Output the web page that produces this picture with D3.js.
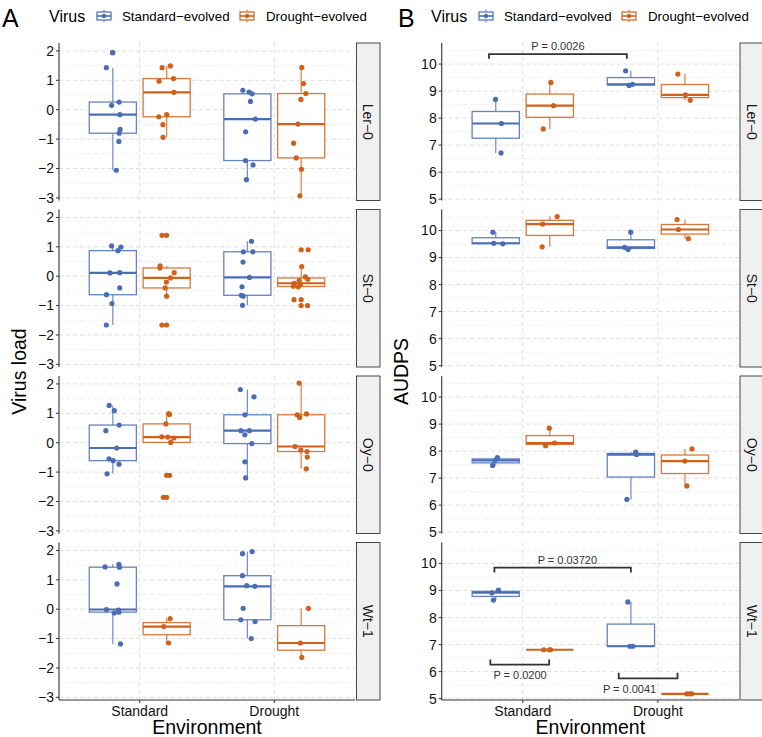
<!DOCTYPE html>
<html><head><meta charset="utf-8">
<script src="https://cdn.jsdelivr.net/npm/d3@7"></script>
<style>
body{margin:0;background:#fff}
svg{display:block}
text{font-family:"Liberation Sans",Arial,Helvetica,sans-serif}
</style>
</head><body>
<svg id="chart" width="762" height="737"></svg>
<script>
// ---------------- DATA ----------------
const environments = ["Standard", "Drought"];
const viruses = ["Standard-evolved", "Drought-evolved"];
const virusLabels = ["Standard\u2212evolved", "Drought\u2212evolved"];
const genotypes = ["Ler-0", "St-0", "Oy-0", "Wt-1"];
const stripLabels = ["Ler\u22120", "St\u22120", "Oy\u22120", "Wt\u22121"];
const loadTicks = [-3, -2, -1, 0, 1, 2];
const audpsTicks = [5, 6, 7, 8, 9, 10];

// Panel A: virus load; groups ordered [Standard/Std-evolved, Standard/Drought-evolved, Drought/Std-evolved, Drought/Drought-evolved]
const loadLer0 = [
  [1.94, 1.43, 0.26, 0.15, -0.17, -0.67, -0.80, -1.08, -2.06],
  [1.49, 1.43, 1.06, 0.97, 0.59, -0.17, -0.24, -0.51, -0.94],
  [0.66, 0.60, 0.54, 0.28, -0.32, -0.75, -1.73, -1.88, -2.38],
  [1.44, 0.89, 0.55, 0.35, -0.49, -1.14, -1.64, -2.03, -2.93]
];
const loadSt0 = [
  [1.03, 0.99, 0.87, 0.12, 0.11, -0.40, -0.63, -0.93, -1.66],
  [1.39, 0.35, 0.28, 0.12, -0.06, -0.20, -0.40, -0.68, -1.66],
  [1.19, 0.83, 0.83, 0.48, -0.04, -0.36, -0.65, -0.68, -0.99],
  [0.90, 0.33, -0.02, -0.10, -0.15, -0.24, -0.28, -0.34, -0.36, -0.80, -1.00]
];
const loadOy0 = [
  [1.27, 1.09, 0.60, 0.41, -0.18, -0.55, -0.61, -0.73, -1.06],
  [0.99, 0.96, 0.64, 0.20, 0.19, 0.16, 0.01, -1.11, -1.86],
  [1.81, 1.56, 0.95, 0.41, 0.41, 0.27, -0.03, -0.65, -1.20],
  [2.03, 0.98, 0.95, 0.86, -0.13, -0.25, -0.30, -0.49, -0.89]
];
const loadWt1 = [
  [1.53, 1.44, 1.43, 0.86, -0.01, -0.03, -0.10, -0.13, -1.18],
  [-0.32, -0.59, -1.15],
  [1.96, 1.89, 1.14, 0.80, 0.78, 0.03, -0.36, -0.42, -1.00],
  [0.03, -1.15, -1.64]
];

// Panel B: AUDPS
const audpsLer0 = [[8.69, 7.80, 6.71], [9.32, 8.46, 7.60], [9.75, 9.25, 9.21], [9.63, 8.86, 8.66]];
const audpsSt0  = [[9.94, 9.53, 9.51], [10.52, 10.24, 9.40], [9.94, 9.38, 9.30], [10.41, 10.04, 9.70]];
const audpsOy0  = [[7.76, 7.66, 7.47], [8.85, 8.30, 8.20], [7.96, 7.87, 6.21], [8.08, 7.63, 6.71]];
const audpsWt1  = [[9.02, 8.92, 8.65], [6.81, 6.81, 6.81], [8.58, 6.94, 6.94], [5.18, 5.18, 5.18]];

// significance brackets (x in environment units, y in AUDPS units)
const pBrackets = [
  {facet: 0, x1: 0.75, x2: 1.77, y: 10.37, tip: 10.20, label: "P = 0.0026", lx: 1.26, ly: 10.52},
  {facet: 3, x1: 0.79, x2: 1.80, y: 9.85, tip: 9.67, label: "P = 0.03720", lx: 1.33, ly: 9.98},
  {facet: 3, x1: 0.76, x2: 1.195, y: 6.26, tip: 6.45, label: "P = 0.0200", lx: 0.98, ly: 5.71},
  {facet: 3, x1: 1.71, x2: 2.145, y: 5.75, tip: 5.96, label: "P = 0.0041", lx: 1.79, ly: 5.22}
];

// ---------------- STYLE / LAYOUT ----------------
const colors = ["#4A6DB4", "#D0601A"];
const facetTop = 43, facetH = 157.5, facetGap = 9;
const svg = d3.select("#chart");

function boxStats(vals) {
  const s = vals.slice().sort(d3.ascending);
  const q1 = d3.quantile(s, 0.25), med = d3.quantile(s, 0.5), q3 = d3.quantile(s, 0.75);
  const iqr = q3 - q1, lo = q1 - 1.5 * iqr, hi = q3 + 1.5 * iqr;
  const inside = s.filter(v => v >= lo && v <= hi);
  return {q1, med, q3, wlo: d3.min(inside), whi: d3.max(inside), out: s.filter(v => v < lo || v > hi)};
}

function drawPanel(cfg) {
  const g = svg.append("g");
  const x = d3.scaleLinear().domain([0.4, 2.6]).range([cfg.left, cfg.right]);
  const rng = d3.randomLcg(cfg.seed);
  const dodge = 0.2, boxW = 0.35, jit = 0.06;

  cfg.data.forEach((groups, fi) => {
    const top = facetTop + fi * (facetH + facetGap), bottom = top + facetH;
    const y = d3.scaleLinear().domain(cfg.domain).range([bottom, top]);
    const fg = g.append("g");
    // minor grid
    const minors = d3.range(cfg.domain[0], cfg.domain[1], 0.5).map(v => Math.ceil(v * 2) / 2).filter(v => !Number.isInteger(v) && v >= cfg.domain[0] && v <= cfg.domain[1]);
    fg.selectAll(".mn").data(minors).join("line")
      .attr("x1", cfg.left).attr("x2", cfg.right)
      .attr("y1", d => y(d)).attr("y2", d => y(d))
      .attr("stroke", "#ebebeb").attr("stroke-width", 0.8).attr("stroke-dasharray", "4,3");
    fg.selectAll(".mj").data(cfg.ticks).join("line")
      .attr("x1", cfg.left).attr("x2", cfg.right)
      .attr("y1", d => y(d)).attr("y2", d => y(d))
      .attr("stroke", "#dedede").attr("stroke-width", 1).attr("stroke-dasharray", "4,3");
    fg.selectAll(".vg").data([1, 2]).join("line")
      .attr("x1", d => x(d)).attr("x2", d => x(d))
      .attr("y1", top).attr("y2", bottom)
      .attr("stroke", "#dedede").attr("stroke-width", 1).attr("stroke-dasharray", "4,3");

    // boxes
    groups.forEach((vals, gi) => {
      const env = Math.floor(gi / 2), vir = gi % 2;
      const cx = 1 + env + (vir === 0 ? -dodge : dodge);
      const col = colors[vir];
      const st = boxStats(vals);
      const bx0 = x(cx - boxW / 2), bx1 = x(cx + boxW / 2), xc = x(cx);
      fg.append("line").attr("x1", xc).attr("x2", xc).attr("y1", y(st.q3)).attr("y2", y(st.whi))
        .attr("stroke", col).attr("stroke-width", 1.3).attr("stroke-opacity", 0.75);
      fg.append("line").attr("x1", xc).attr("x2", xc).attr("y1", y(st.q1)).attr("y2", y(st.wlo))
        .attr("stroke", col).attr("stroke-width", 1.3).attr("stroke-opacity", 0.75);
      fg.append("rect").attr("x", bx0).attr("y", y(st.q3)).attr("width", bx1 - bx0)
        .attr("height", Math.max(0, y(st.q1) - y(st.q3)))
        .attr("fill", "#fff").attr("stroke", col).attr("stroke-width", 1.3).attr("stroke-opacity", 0.85);
      fg.append("line").attr("x1", bx0).attr("x2", bx1).attr("y1", y(st.med)).attr("y2", y(st.med))
        .attr("stroke", col).attr("stroke-width", 2.2);
      // outliers at box centre
      fg.selectAll(null).data(st.out).join("circle")
        .attr("cx", xc).attr("cy", d => y(d)).attr("r", 2.6).attr("fill", col);
      // jittered points
      fg.selectAll(null).data(vals).join("circle")
        .attr("cx", () => x(cx + (rng() * 2 - 1) * jit)).attr("cy", d => y(d))
        .attr("r", 2.6).attr("fill", col);
    });

    // annotations
    (cfg.brackets || []).filter(b => b.facet === fi).forEach(b => {
      fg.append("path")
        .attr("d", `M${x(b.x1)},${y(b.tip)}V${y(b.y)}H${x(b.x2)}V${y(b.tip)}`)
        .attr("fill", "none").attr("stroke", "#333").attr("stroke-width", 1.8);
      fg.append("text").attr("x", x(b.lx)).attr("y", y(b.ly)).attr("text-anchor", "middle")
        .attr("font-size", 11).attr("fill", "#333").text(b.label);
    });

    // y axis
    fg.append("line").attr("x1", cfg.left).attr("x2", cfg.left).attr("y1", top).attr("y2", bottom)
      .attr("stroke", "#333").attr("stroke-width", 1.1);
    fg.selectAll(".tk").data(cfg.ticks).join("line")
      .attr("x1", cfg.left - 3).attr("x2", cfg.left).attr("y1", d => y(d)).attr("y2", d => y(d))
      .attr("stroke", "#333").attr("stroke-width", 1);
    fg.selectAll(".tl").data(cfg.ticks).join("text")
      .attr("x", cfg.left - 5).attr("y", d => y(d)).attr("dy", "0.35em")
      .attr("text-anchor", "end").attr("font-size", 14).attr("fill", "#111")
      .text(d => d < 0 ? "\u2212" + Math.abs(d) : d);

    // strip
    fg.append("rect").attr("x", cfg.stripX).attr("y", top).attr("width", 23.5).attr("height", facetH)
      .attr("fill", "#f0f0f0").attr("stroke", "#333").attr("stroke-width", 0.9);
    fg.append("text").attr("transform", `translate(${cfg.stripX + 11.75},${top + facetH / 2}) rotate(90)`)
      .attr("text-anchor", "middle").attr("dy", "0.35em").attr("font-size", 14).attr("fill", "#1a1a1a")
      .text(stripLabels[fi]);

    if (fi === cfg.data.length - 1) {
      fg.append("line").attr("x1", cfg.left).attr("x2", cfg.right).attr("y1", bottom).attr("y2", bottom)
        .attr("stroke", "#333").attr("stroke-width", 1.1);
      fg.selectAll(".xt").data([1, 2]).join("line")
        .attr("x1", d => x(d)).attr("x2", d => x(d)).attr("y1", bottom).attr("y2", bottom + 3)
        .attr("stroke", "#333");
      fg.selectAll(".xl").data(environments).join("text")
        .attr("x", (d, i) => x(i + 1)).attr("y", bottom + 16).attr("text-anchor", "middle")
        .attr("font-size", 14).attr("fill", "#111").text(d => d);
    }
  });

  // titles
  g.append("text").attr("x", (cfg.left + cfg.right) / 2).attr("y", 734).attr("text-anchor", "middle")
    .attr("font-size", 19.5).attr("fill", "#000").text("Environment");
  g.append("text").attr("transform", `translate(${cfg.yTitleX},${(facetTop + 700) / 2}) rotate(-90)`)
    .attr("text-anchor", "middle").attr("font-size", 19.5).attr("fill", "#000").text(cfg.yTitle);

  // panel letter and legend
  g.append("text").attr("x", cfg.letterX).attr("y", 27).attr("font-size", 25).attr("fill", "#000").text(cfg.letter);
  g.append("text").attr("x", cfg.legX).attr("y", 21.5).attr("font-size", 16).attr("fill", "#000").text("Virus");
  viruses.forEach((v, i) => {
    const kx = cfg.keyX[i], ky = 16, col = colors[i];
    const k = g.append("g");
    k.append("line").attr("x1", kx + 7).attr("x2", kx + 7).attr("y1", ky - 6.5).attr("y2", ky + 6.5)
      .attr("stroke", col).attr("stroke-width", 1.2).attr("stroke-opacity", 0.75);
    k.append("rect").attr("x", kx).attr("y", ky - 4).attr("width", 14).attr("height", 8)
      .attr("fill", "#fff").attr("stroke", col).attr("stroke-width", 1.2);
    k.append("line").attr("x1", kx).attr("x2", kx + 14).attr("y1", ky).attr("y2", ky)
      .attr("stroke", col).attr("stroke-width", 1.6);
    k.append("circle").attr("cx", kx + 7).attr("cy", ky).attr("r", 2.2).attr("fill", col);
    g.append("text").attr("x", cfg.labX[i]).attr("y", 20.5).attr("font-size", 13.3).attr("fill", "#000")
      .text(virusLabels[i]);
  });
}

drawPanel({
  left: 59, right: 355, stripX: 356.5, domain: [-3.09, 2.27], ticks: loadTicks,
  data: [loadLer0, loadSt0, loadOy0, loadWt1], seed: 0.17,
  yTitle: "Virus load", yTitleX: 26, letter: "A", letterX: 2,
  legX: 49, keyX: [97, 240], labX: [122, 266]
});
drawPanel({
  left: 441.7, right: 739, stripX: 740, domain: [4.95, 10.78], ticks: audpsTicks,
  data: [audpsLer0, audpsSt0, audpsOy0, audpsWt1], seed: 0.53, brackets: pBrackets,
  yTitle: "AUDPS", yTitleX: 408, letter: "B", letterX: 398,
  legX: 431, keyX: [479, 622], labX: [504, 648]
});
</script>
</body></html>
